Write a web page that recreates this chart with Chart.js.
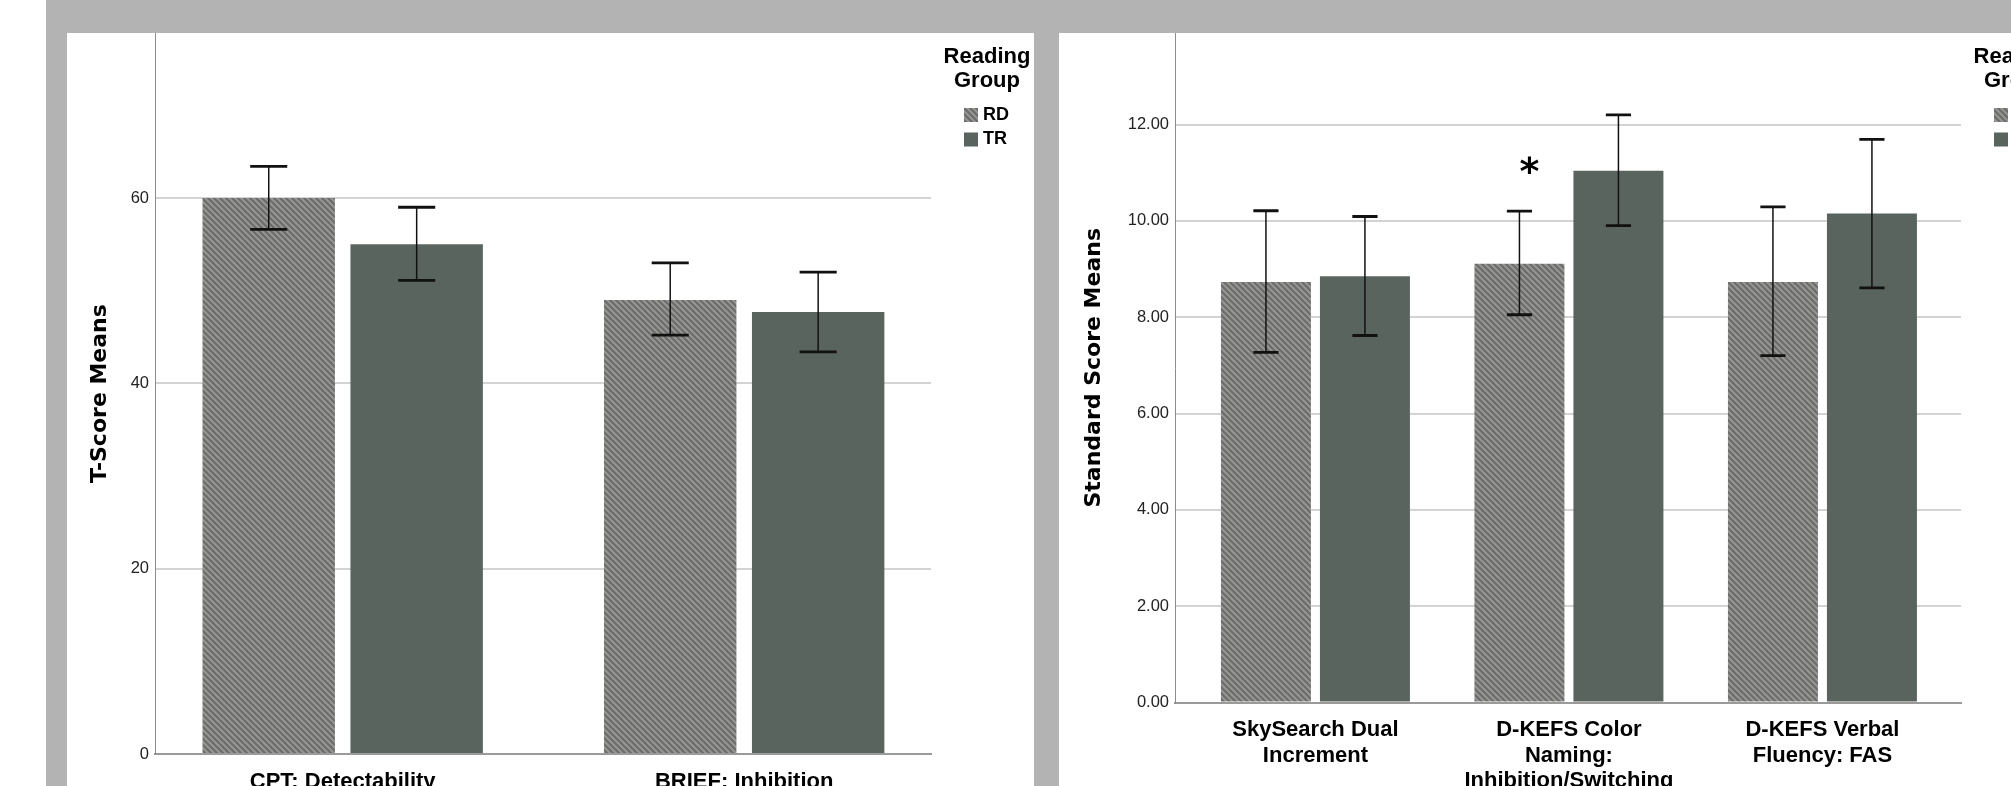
<!DOCTYPE html>
<html>
<head>
<meta charset="utf-8">
<title>Reading Group Means</title>
<script src="https://cdn.jsdelivr.net/npm/chart.js@4.4.1/dist/chart.umd.min.js"></script>
<style>
  html, body { margin: 0; padding: 0; }
  body { width: 2011px; height: 786px; background: #b3b3b3; position: relative; overflow: hidden; }
  #edge { position: absolute; left: 0; top: 0; width: 46px; height: 786px; background: #fff; }
  .panel { position: absolute; top: 33px; height: 753px; background: #fff; }
  .panel canvas { display: block; }
  #leftPanel { left: 67px; width: 967px; }
  #rightPanel { left: 1059px; width: 952px; }
</style>
</head>
<body>
<div id="edge"></div>
<div class="panel" id="leftPanel"><canvas id="tscoreChart" width="967" height="753"></canvas></div>
<div class="panel" id="rightPanel"><canvas id="standardChart" width="952" height="753"></canvas></div>
<script>
// T-score panel
const tscoreLabels = ['CPT: Detectability', 'BRIEF: Inhibition'];
const tscoreRD = [60.0, 49.0];
const tscoreRDLow = [56.6, 45.2];
const tscoreRDHigh = [63.4, 53.0];
const tscoreTR = [55.0, 47.7];
const tscoreTRLow = [51.1, 43.4];
const tscoreTRHigh = [59.0, 52.0];
const tscoreTicks = [0, 20, 40, 60];

// Standard score panel
const standardLabels = [
    ['SkySearch Dual', 'Increment'],
    ['D-KEFS Color', 'Naming:', 'Inhibition/Switching'],
    ['D-KEFS Verbal', 'Fluency: FAS'],
];
const standardRD = [8.73, 9.11, 8.73];
const standardRDLow = [7.27, 8.05, 7.20];
const standardRDHigh = [10.21, 10.20, 10.29];
const standardTR = [8.85, 11.04, 10.15];
const standardTRLow = [7.62, 9.90, 8.61];
const standardTRHigh = [10.09, 12.20, 11.69];
const standardStars = [null, 11.1, null];
const standardTicks = [0, 2, 4, 6, 8, 10, 12];

const groupNames = ['RD', 'TR'];
const legendTitle = ['Reading', 'Group'];

Chart.defaults.font.family = '"Liberation Sans", Arial, sans-serif';
Chart.defaults.color = '#222';

// diagonal hatch used for the RD bars
function makeHatch() {
    const c = document.createElement('canvas');
    c.width = 6;
    c.height = 6;
    const g = c.getContext('2d');
    g.fillStyle = '#979694';
    g.fillRect(0, 0, 6, 6);
    g.strokeStyle = '#6b6d6b';
    g.lineWidth = 2.2;
    g.beginPath();
    for (let k = -1; k <= 1; k++) {
        g.moveTo(-1, k * 6 - 1);
        g.lineTo(7, k * 6 + 7);
    }
    g.stroke();
    return g.createPattern(c, 'repeat');
}
const hatch = makeHatch();
const trColor = '#5a645f';

// SPSS spaces the clusters a little differently from an even split
const categorySpread = {
    id: 'categorySpread',
    afterLayout(chart, args, opts) {
        const x = chart.scales.x;
        x._startValue = opts.start;
        x._valueRange = opts.range;
    },
};

const errorBars = {
    id: 'errorBars',
    afterDatasetsDraw(chart) {
        const ctx = chart.ctx;
        const y = chart.scales.y;
        ctx.save();
        ctx.strokeStyle = '#111';
        chart.data.datasets.forEach((ds, i) => {
            chart.getDatasetMeta(i).data.forEach((bar, j) => {
                const top = y.getPixelForValue(ds.errHigh[j]);
                const bottom = y.getPixelForValue(ds.errLow[j]);
                const cap = (bar.width * 0.28) / 2;
                ctx.lineWidth = 1.5;
                ctx.beginPath();
                ctx.moveTo(bar.x, top);
                ctx.lineTo(bar.x, bottom);
                ctx.stroke();
                ctx.lineWidth = 2.8;
                ctx.beginPath();
                ctx.moveTo(bar.x - cap, top);
                ctx.lineTo(bar.x + cap, top);
                ctx.moveTo(bar.x - cap, bottom);
                ctx.lineTo(bar.x + cap, bottom);
                ctx.stroke();
            });
        });
        ctx.restore();
    },
};

const significance = {
    id: 'significance',
    afterDatasetsDraw(chart, args, opts) {
        if (!opts.values) return;
        const ctx = chart.ctx;
        const y = chart.scales.y;
        const bars = chart.getDatasetMeta(0).data;
        ctx.save();
        ctx.fillStyle = '#000';
        ctx.font = 'bold 38px "DejaVu Sans"';
        ctx.textAlign = 'center';
        ctx.textBaseline = 'alphabetic';
        opts.values.forEach((v, j) => {
            if (v === null) return;
            ctx.fillText('*', bars[j].x + opts.dx, y.getPixelForValue(v) + 16);
        });
        ctx.restore();
    },
};

const groupLegend = {
    id: 'groupLegend',
    afterDraw(chart) {
        const ctx = chart.ctx;
        const x0 = chart.chartArea.right;
        ctx.save();
        ctx.fillStyle = '#000';
        ctx.textBaseline = 'middle';
        ctx.textAlign = 'center';
        ctx.font = 'bold 22px "Liberation Sans"';
        legendTitle.forEach((line, i) => ctx.fillText(line, x0 + 56, 24 + i * 23.5));
        ctx.textAlign = 'left';
        ctx.font = 'bold 18px "Liberation Sans"';
        chart.data.datasets.forEach((ds, i) => {
            const yc = 82 + i * 24.5;
            ctx.fillStyle = ds.backgroundColor;
            ctx.fillRect(x0 + 33, yc - 7, 14, 14);
            ctx.fillStyle = '#000';
            ctx.fillText(ds.label, x0 + 52, yc);
        });
        ctx.restore();
    },
};

function buildChart(canvasId, cfg) {
    const ctx = document.getElementById(canvasId).getContext('2d');
    return new Chart(ctx, {
        type: 'bar',
        data: {
            labels: cfg.labels,
            datasets: [
                {
                    label: groupNames[0],
                    data: cfg.rd,
                    errLow: cfg.rdLow,
                    errHigh: cfg.rdHigh,
                    backgroundColor: hatch,
                    borderWidth: 0,
                },
                {
                    label: groupNames[1],
                    data: cfg.tr,
                    errLow: cfg.trLow,
                    errHigh: cfg.trHigh,
                    backgroundColor: trColor,
                    borderWidth: 0,
                },
            ],
        },
        options: {
            responsive: false,
            animation: false,
            categoryPercentage: cfg.catPct,
            barPercentage: cfg.barPct,
            layout: { padding: { left: 0, top: 0, right: cfg.padRight, bottom: 0 } },
            scales: {
                x: {
                    grid: { display: false },
                    border: { display: true, color: '#9a9a9a', width: 2 },
                    ticks: {
                        color: '#000',
                        padding: 7,
                        maxRotation: 0,
                        autoSkip: false,
                        font: { size: 22, weight: 'bold', lineHeight: 1.15 },
                    },
                    afterFit: s => {
                        s.height = cfg.xHeight;
                        s.paddingLeft = 0;
                        s.paddingRight = 0;
                    },
                },
                y: {
                    min: 0,
                    max: cfg.max,
                    afterBuildTicks: s => { s.ticks = cfg.ticks.map(v => ({ value: v })); },
                    afterFit: s => {
                        s.width = cfg.yWidth;
                        s.paddingTop = 0;
                        s.paddingBottom = 0;
                    },
                    border: { display: true, color: '#8c8c8c', width: 1 },
                    grid: {
                        drawTicks: false,
                        lineWidth: 2,
                        color: c => (c.tick && c.tick.value === 0 ? '#9a9a9a' : '#d3d3d3'),
                    },
                    ticks: {
                        padding: 6,
                        color: '#222',
                        font: { size: 16.5 },
                        callback: cfg.tickFormat,
                    },
                    title: {
                        display: true,
                        text: cfg.yTitle,
                        color: '#000',
                        padding: { top: cfg.titlePad, bottom: 0 },
                        font: { family: '"DejaVu Sans"', size: 22, weight: 'bold' },
                    },
                },
            },
            plugins: {
                legend: { display: false },
                tooltip: { enabled: false },
                categorySpread: { start: cfg.catStart, range: cfg.catRange },
                significance: { values: cfg.stars, dx: 10 },
            },
        },
        plugins: [categorySpread, errorBars, significance, groupLegend],
    });
}

buildChart('tscoreChart', {
    labels: tscoreLabels,
    rd: tscoreRD, rdLow: tscoreRDLow, rdHigh: tscoreRDHigh,
    tr: tscoreTR, trLow: tscoreTRLow, trHigh: tscoreTRHigh,
    ticks: tscoreTicks,
    max: 77.8,
    tickFormat: v => String(v),
    yTitle: 'T-Score Means',
    titlePad: 20,
    yWidth: 88,
    xHeight: 32,
    padRight: 103,
    catPct: 0.737,
    barPct: 0.895,
    catStart: -0.4675,
    catRange: 1.9328,
    stars: null,
});

buildChart('standardChart', {
    labels: standardLabels,
    rd: standardRD, rdLow: standardRDLow, rdHigh: standardRDHigh,
    tr: standardTR, trLow: standardTRLow, trHigh: standardTRHigh,
    ticks: standardTicks,
    max: 13.9,
    tickFormat: v => v.toFixed(2),
    yTitle: 'Standard Score Means',
    titlePad: 22,
    yWidth: 116,
    xHeight: 83.5,
    padRight: 50,
    catPct: 0.781,
    barPct: 0.909,
    catStart: -0.554,
    catRange: 3.1006,
    stars: standardStars,
});
</script>
</body>
</html>
